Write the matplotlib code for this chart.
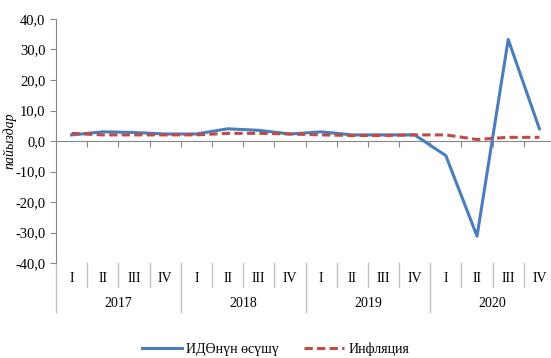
import matplotlib.pyplot as plt
import matplotlib.transforms as mtransforms

years = ["2017", "2018", "2019", "2020"]
quarters = ["I", "II", "III", "IV"]
gdp_growth = [2.0, 3.0, 2.8, 2.3, 2.3, 4.0, 3.5, 2.3,
              3.0, 2.0, 2.0, 2.0, -4.8, -31.2, 33.3, 4.0]
inflation = [2.5, 2.0, 2.0, 2.0, 2.0, 2.5, 2.5, 2.3,
             2.0, 1.8, 1.8, 2.0, 2.0, 0.5, 1.2, 1.2]
y_ticks = [40, 30, 20, 10, 0, -10, -20, -30, -40]

plt.rcParams["font.family"] = ["Liberation Serif", "DejaVu Serif"]
plt.rcParams["font.size"] = 10

blue = "#4a7ebb"
red = "#be4b48"
gray = "#868686"

fig = plt.figure(figsize=(5.51, 3.58), dpi=100)
# plot area runs past the right edge of the picture, as in the reference
ax = fig.add_axes([56 / 551, 95 / 358, 499 / 551, 244 / 358])

x = list(range(len(gdp_growth)))
ax.plot(x, gdp_growth, color=blue, lw=2.2, label="ИДӨнүн өсүшү", zorder=3)
ax.plot(x, inflation, color=red, lw=2.2, dashes=(2.7, 1.4), label="Инфляция", zorder=3)

ax.set_xlim(-0.5, len(x) - 0.5)
ax.set_ylim(-40, 40)
ax.set_yticks(y_ticks)
ax.set_yticklabels([f"{v:.1f}".replace(".", ",") for v in y_ticks])

for side in ["top", "right"]:
    ax.spines[side].set_visible(False)
ax.spines["left"].set_color(gray)
ax.spines["bottom"].set_color(gray)
ax.spines["bottom"].set_position(("data", 0))
ax.set_xticks([k + 0.5 for k in range(len(x))])
ax.set_xticklabels([])
ax.tick_params(axis="x", direction="out", length=4, color=gray)
ax.tick_params(axis="y", direction="out", length=4, color=gray, labelsize=10.5, pad=3.5)

ax.set_ylabel("пайыздар", style="italic", labelpad=-1)

# category labels below the plot
trans = mtransforms.blended_transform_factory(ax.transData, ax.transAxes)
for i in range(len(x)):
    ax.text(i, -0.062, quarters[i % 4], transform=trans, ha="center", va="center")
    if i > 0:
        bottom = -0.201 if i % 4 == 0 else -0.098
        ax.plot([i - 0.5, i - 0.5], [0, bottom], transform=trans, color="#c0c0c0",
                lw=1, clip_on=False)
ax.plot([-0.5, -0.5], [0, -0.201], transform=trans, color="#c0c0c0", lw=1, clip_on=False)
for j, yr in enumerate(years):
    ax.text(j * 4 + 1.5, -0.164, yr, transform=trans, ha="center", va="center")

fig.legend(loc="center", bbox_to_anchor=(0.5, 0.025), ncol=2, frameon=False,
           handlelength=2.9, columnspacing=1.8, handletextpad=0.3, fontsize=10)

fig.savefig("out.png", dpi=100)
